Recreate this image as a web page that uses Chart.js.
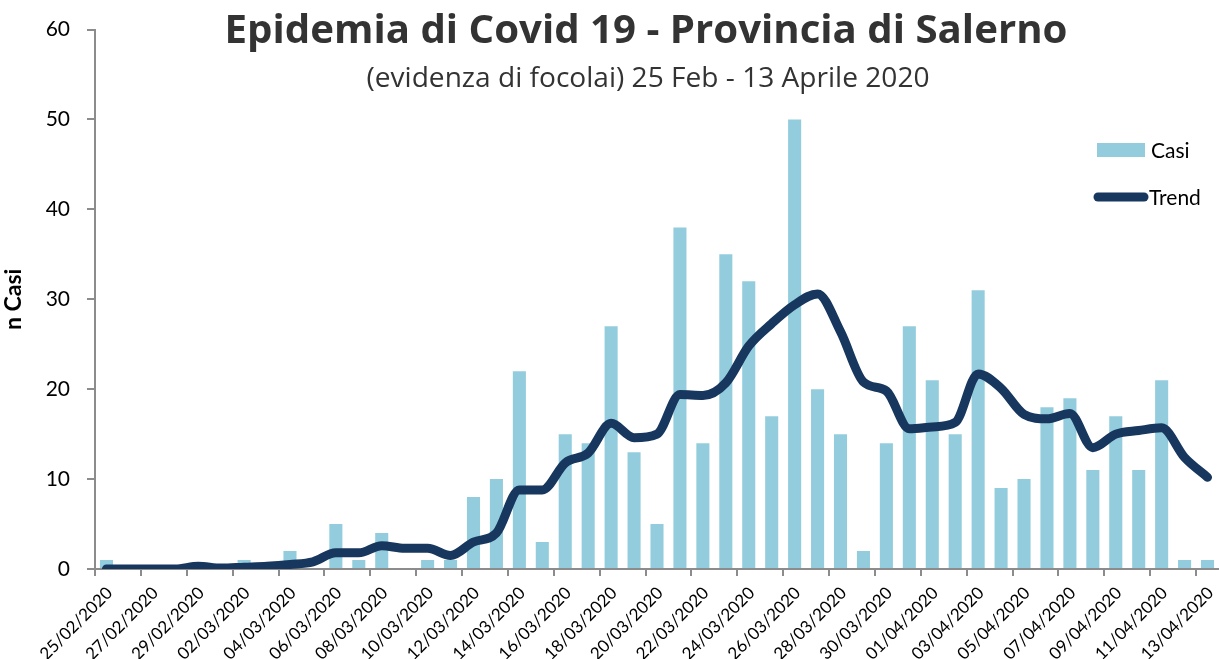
<!DOCTYPE html>
<html>
<head>
<meta charset="utf-8">
<script src="https://cdn.jsdelivr.net/npm/chart.js@4.4.1/dist/chart.umd.min.js"></script>
<style>
  html, body { margin: 0; padding: 0; background: #fff; }
  #wrap { width: 1219px; height: 659px; position: relative; }
</style>
</head>
<body>
<div id="wrap"><canvas id="covidChart" width="1219" height="659"></canvas></div>
<script>
const dates = [
    "25/02/2020", "26/02/2020", "27/02/2020", "28/02/2020", "29/02/2020",
    "01/03/2020", "02/03/2020", "03/03/2020", "04/03/2020", "05/03/2020",
    "06/03/2020", "07/03/2020", "08/03/2020", "09/03/2020", "10/03/2020",
    "11/03/2020", "12/03/2020", "13/03/2020", "14/03/2020", "15/03/2020",
    "16/03/2020", "17/03/2020", "18/03/2020", "19/03/2020", "20/03/2020",
    "21/03/2020", "22/03/2020", "23/03/2020", "24/03/2020", "25/03/2020",
    "26/03/2020", "27/03/2020", "28/03/2020", "29/03/2020", "30/03/2020",
    "31/03/2020", "01/04/2020", "02/04/2020", "03/04/2020", "04/04/2020",
    "05/04/2020", "06/04/2020", "07/04/2020", "08/04/2020", "09/04/2020",
    "10/04/2020", "11/04/2020", "12/04/2020", "13/04/2020"
];

const casi = [
    1, 0, 0, 0, 0, 0, 1, 0, 2, 0,
    5, 1, 4, 0, 1, 1, 8, 10, 22, 3,
    15, 14, 27, 13, 5, 38, 14, 35, 32, 17,
    50, 20, 15, 2, 14, 27, 21, 15, 31, 9,
    10, 18, 19, 11, 17, 11, 21, 1, 1
];

const trend = [
    0, 0, 0, 0, 0.3, 0.1, 0.2, 0.3, 0.5, 0.8,
    1.8, 1.8, 2.6, 2.3, 2.3, 1.5, 3.0, 4.0, 8.8, 8.8,
    11.8, 12.9, 16.2, 14.6, 15.0, 19.4, 19.3, 20.7, 24.8, 27.3,
    29.4, 30.6, 26.4, 20.8, 19.8, 15.6, 15.8, 16.3, 21.7, 20.1,
    17.2, 16.7, 17.3, 13.5, 15.0, 15.4, 15.7, 12.4, 10.2
];

const yTicks = [0, 10, 20, 30, 40, 50, 60];

const titleText = "Epidemia di Covid 19 - Provincia di Salerno";
const subtitleText = "(evidenza di focolai) 25 Feb - 13 Aprile 2020";

const barColor = "#93cddd";
const lineColor = "#17375e";
const axisColor = "#8c8c8c";
const fontFamily = "Lato, 'Open Sans', sans-serif";
const titleFamily = "'Open Sans', Lato, sans-serif";

// pick a font size so the text spans the given width
function fitFont(c, weight, text, width) {
    c.font = weight + " 100px " + titleFamily;
    const size = 100 * width / c.measureText(text).width;
    c.font = weight + " " + size.toFixed(1) + "px " + titleFamily;
}

// titles and in-plot legend, drawn like the Excel original
const overlay = {
    id: "overlay",
    afterDraw(chart) {
        const c = chart.ctx;
        c.save();

        c.fillStyle = "#333333";
        c.textAlign = "center";
        c.textBaseline = "middle";
        fitFont(c, "bold", titleText, 843);
        c.fillText(titleText, 646, 32);

        fitFont(c, "normal", subtitleText, 563);
        c.fillText(subtitleText, 648, 79);

        // legend
        c.fillStyle = barColor;
        c.fillRect(1097, 143, 48, 14);

        c.strokeStyle = lineColor;
        c.lineWidth = 9;
        c.lineCap = "round";
        c.beginPath();
        c.moveTo(1098, 197);
        c.lineTo(1144, 197);
        c.stroke();

        c.fillStyle = "#000";
        c.textAlign = "left";
        c.font = "21px " + fontFamily;
        c.fillText("Casi", 1151, 151);
        c.fillText("Trend", 1149, 198);

        c.restore();
    }
};

const ctx = document.getElementById("covidChart");

new Chart(ctx, {
    data: {
        labels: dates,
        datasets: [
            {
                type: "line",
                label: "Trend",
                data: trend,
                borderColor: lineColor,
                borderWidth: 9,
                borderCapStyle: "round",
                borderJoinStyle: "round",
                pointRadius: 0,
                tension: 0.4,
                cubicInterpolationMode: "monotone",
                order: 0
            },
            {
                type: "bar",
                label: "Casi",
                data: casi,
                backgroundColor: barColor,
                barPercentage: 0.57,
                categoryPercentage: 1,
                order: 1
            }
        ]
    },
    options: {
        responsive: false,
        animation: false,
        layout: {
            padding: { top: 26, right: 0, left: 0, bottom: 0 }
        },
        plugins: {
            legend: { display: false },
            tooltip: { enabled: false }
        },
        scales: {
            x: {
                offset: true,
                grid: {
                    offset: true,
                    drawOnChartArea: false,
                    drawTicks: true,
                    tickLength: 7,
                    lineWidth: 2,
                    color: c => (c.index % 2 === 0 ? axisColor : "rgba(0,0,0,0)")
                },
                border: { display: true, color: axisColor, width: 2 },
                ticks: {
                    autoSkip: false,
                    maxRotation: 45,
                    minRotation: 45,
                    labelOffset: 3,
                    padding: 7,
                    color: "#000",
                    font: { family: fontFamily, size: 17 },
                    callback: function (v, i) {
                        return i % 2 === 0 ? this.getLabelForValue(v) : "";
                    }
                },
                afterFit: s => {
                    s.height = 90;
                    s.paddingLeft = 0;
                    s.paddingRight = 0;
                }
            },
            y: {
                min: 0,
                max: 60,
                afterBuildTicks: s => {
                    s.ticks = yTicks.map(v => ({ value: v }));
                },
                grid: {
                    drawOnChartArea: false,
                    drawTicks: true,
                    tickLength: 8,
                    lineWidth: 2,
                    color: axisColor
                },
                border: { display: true, color: axisColor, width: 2 },
                ticks: {
                    padding: 17,
                    color: "#000",
                    font: { family: fontFamily, size: 21 }
                },
                title: {
                    display: true,
                    text: "n Casi",
                    color: "#000",
                    padding: { top: 0, bottom: 6 },
                    font: { family: fontFamily, size: 23, weight: "bold" }
                },
                afterFit: s => { s.width = 95; }
            }
        }
    },
    plugins: [overlay]
});
</script>
</body>
</html>
